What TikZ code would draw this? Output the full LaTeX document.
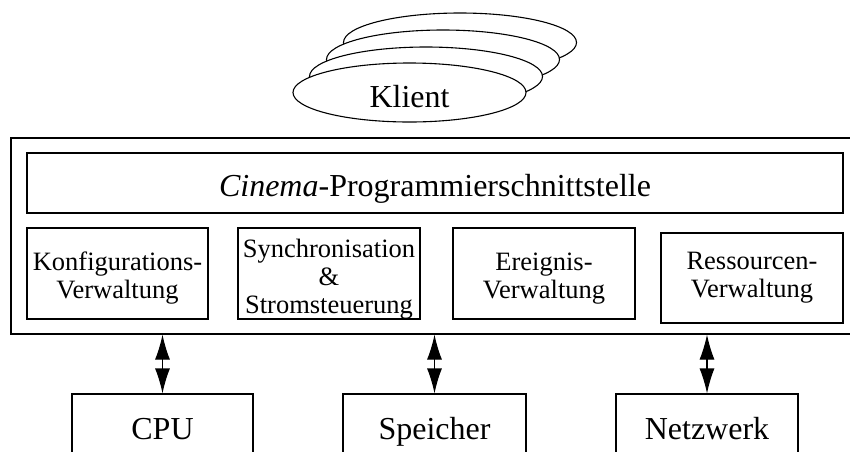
\documentclass[tikz,border=0pt]{standalone}
\usepackage{fontspec}
\setmainfont{Liberation Serif}
\usetikzlibrary{shapes.geometric,arrows.meta}

\tikzset{
  line/.style={line width=1.1pt},
  box/.style={line, draw, rectangle, inner sep=0pt, fill=white},
  client/.style={line, draw, ellipse, inner sep=0pt, fill=white,
    minimum width=233pt, minimum height=59pt},
  big/.style={font=\fontsize{32}{34}\selectfont, inner sep=0pt, text height=21pt, text depth=0pt},
  small/.style={font=\fontsize{26.5}{28}\selectfont, inner sep=0pt, align=center},
  link/.style={line, {Latex[length=25pt,width=15pt]}-{Latex[length=25pt,width=15pt]}}
}

\begin{document}
\begin{tikzpicture}[x=1pt,y=-1pt]
  \useasboundingbox (0,0) rectangle (850,451);
  \clip (0,0) rectangle (850,451);

  % stack of client ellipses, back to front
  \node[client] (c4) at (460,42.5) {};
  \node[client] (c3) at (443,59.5) {};
  \node[client] (c2) at (426,76.5) {};
  \node[client] (c1) at (409.5,92.5) {};
  \node[big] (klient) at ([yshift=-4pt]c1.center) {Klient};

  % the Cinema layer
  \node[box, minimum width=848pt, minimum height=196pt] (outer) at (435,236) {};
  \node[box, minimum width=816pt, minimum height=60pt] (api) at (435,183) {};
  \node[big] (apitext) at ([yshift=-2.5pt]api.center)
    {\textit{Cinema}-Programmierschnittstelle};

  \node[box, minimum width=181pt, minimum height=91pt] (konf) at (117.5,273.5) {};
  \node[box, minimum width=182pt, minimum height=91pt] (sync) at (329,273.5) {};
  \node[box, minimum width=182pt, minimum height=91pt] (ereig) at (544,273.5) {};
  \node[box, minimum width=182pt, minimum height=90pt] (ress) at (752,278) {};

  \node[small] (konftext) at ([yshift=-5pt]konf.center) {Konfigurations-\\Verwaltung};
  \node[small] (synctext) at ([yshift=-6pt]sync.center) {Synchronisation\\\&\\Stromsteuerung};
  \node[small] (ereigtext) at ([yshift=-5pt]ereig.center) {Ereignis-\\Verwaltung};
  \node[small] (resstext) at (ress.center) {Ressourcen-\\Verwaltung};

  % system resources
  \node[box, big, minimum width=181pt, minimum height=70pt] (cpu) at (162.5,429) {CPU};
  \node[box, big, minimum width=183pt, minimum height=70pt] (mem) at (434.5,429) {Speicher};
  \node[box, big, minimum width=182pt, minimum height=70pt] (net) at (707,429) {Netzwerk};

  \draw[link] (cpu.north |- outer.south) -- (cpu.north);
  \draw[link] (mem.north |- outer.south) -- (mem.north);
  \draw[link] (net.north |- outer.south) -- (net.north);
\end{tikzpicture}
\end{document}
